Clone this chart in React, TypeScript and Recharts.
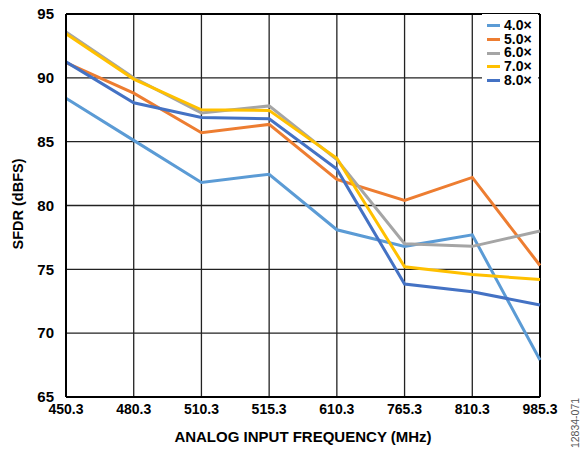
import React from 'react';
import { LineChart, Line, XAxis, YAxis, CartesianGrid, Legend, ReferenceLine, Label } from 'recharts';

const frequencies = ['450.3', '480.3', '510.3', '515.3', '610.3', '765.3', '810.3', '985.3'];
const sfdr4x = [88.4, 85.1, 81.8, 82.45, 78.1, 76.8, 77.7, 67.9];
const sfdr5x = [91.2, 88.8, 85.7, 86.35, 82.05, 80.4, 82.2, 75.3];
const sfdr6x = [93.6, 90.0, 87.25, 87.8, 83.6, 77.0, 76.8, 78.0];
const sfdr7x = [93.45, 89.9, 87.5, 87.45, 83.7, 75.2, 74.6, 74.2];
const sfdr8x = [91.25, 88.05, 86.9, 86.8, 82.85, 73.85, 73.25, 72.2];
const seriesNames = ['4.0×', '5.0×', '6.0×', '7.0×', '8.0×'];
const yTicks = [65, 70, 75, 80, 85, 90, 95];

const colors = ['#5B9BD5', '#ED7D31', '#A5A5A5', '#FFC000', '#4472C4'];
const FONT = "'Liberation Sans', Arial, Helvetica, sans-serif";

const seriesValues = [sfdr4x, sfdr5x, sfdr6x, sfdr7x, sfdr8x];
const data = frequencies.map((f, i) => {
  const row: Record<string, string | number> = { freq: f };
  seriesNames.forEach((name, s) => {
    row[name] = seriesValues[s][i];
  });
  return row;
});

const renderLegend = (props: any) => {
  const payload = props.payload || [];
  return (
    <div style={{ background: '#fff', width: 51, padding: '5px 0 4px 5px', overflow: 'visible' }}>
      {payload.map((entry: any) => (
        <div
          key={entry.value}
          style={{
            display: 'flex',
            alignItems: 'center',
            height: 13.7,
            lineHeight: '13.7px',
            fontFamily: FONT,
            fontWeight: 'bold',
            fontSize: 14,
            color: '#000',
            whiteSpace: 'nowrap',
          }}
        >
          <span
            style={{
              display: 'inline-block',
              width: 13,
              height: 3,
              background: entry.color,
              marginRight: 4,
              flexShrink: 0,
            }}
          />
          <span>{entry.value}</span>
        </div>
      ))}
    </div>
  );
};

const YLabel = () => (
  <text
    x={18}
    y={204}
    transform="rotate(-90 18 204)"
    textAnchor="middle"
    dominantBaseline="central"
    fontFamily={FONT}
    fontWeight="bold"
    fontSize={14.5}
    fill="#000"
  >
    SFDR (dBFS)
  </text>
);

export default function App() {
  return (
    <div style={{ position: 'absolute', left: 0, top: 0, width: 581, height: 451, background: '#fff' }}>
      <LineChart
        width={581}
        height={451}
        data={data}
        margin={{ top: 14, right: 41, bottom: 0, left: 0 }}
      >
        <CartesianGrid stroke="#222" strokeWidth={1.3} />
        <XAxis
          dataKey="freq"
          height={54}
          tickLine={false}
          tickSize={0}
          tickMargin={7}
          axisLine={{ stroke: '#000', strokeWidth: 2 }}
          tick={{ fill: '#000', fontFamily: FONT, fontWeight: 'bold', fontSize: 14 }}
          interval={0}
        >
          <Label
            value="ANALOG INPUT FREQUENCY (MHz)"
            position="insideBottom"
            offset={9}
            style={{ fill: '#000', fontFamily: FONT, fontWeight: 'bold', fontSize: 15 }}
          />
        </XAxis>
        <YAxis
          width={66}
          domain={[65, 95]}
          ticks={yTicks}
          interval={0}
          tickLine={false}
          tickSize={0}
          tickMargin={12}
          axisLine={{ stroke: '#000', strokeWidth: 2 }}
          tick={{ fill: '#000', fontFamily: FONT, fontWeight: 'bold', fontSize: 15 }}
        >
          <Label content={YLabel} />
        </YAxis>
        <ReferenceLine y={95} stroke="#000" strokeWidth={2} />
        <ReferenceLine x="985.3" stroke="#000" strokeWidth={2} />
        {seriesNames.map((name, i) => (
          <Line
            key={name}
            type="linear"
            dataKey={name}
            stroke={colors[i]}
            strokeWidth={3}
            dot={false}
            activeDot={false}
            isAnimationActive={false}
          />
        ))}
        <Legend
          layout="horizontal"
          verticalAlign="middle"
          align="center"
          content={renderLegend}
          wrapperStyle={{ left: 482, top: 14, width: 'auto', height: 'auto', right: 'auto', bottom: 'auto' }}
        />
      </LineChart>
      <svg width={20} height={60} style={{ position: 'absolute', left: 565, top: 393 }}>
        <text
          x={10}
          y={30}
          transform="rotate(-90 10 30)"
          textAnchor="middle"
          dominantBaseline="central"
          fontFamily={FONT}
          fontSize={10.5}
          fill="#555"
        >
          12834-071
        </text>
      </svg>
    </div>
  );
}
